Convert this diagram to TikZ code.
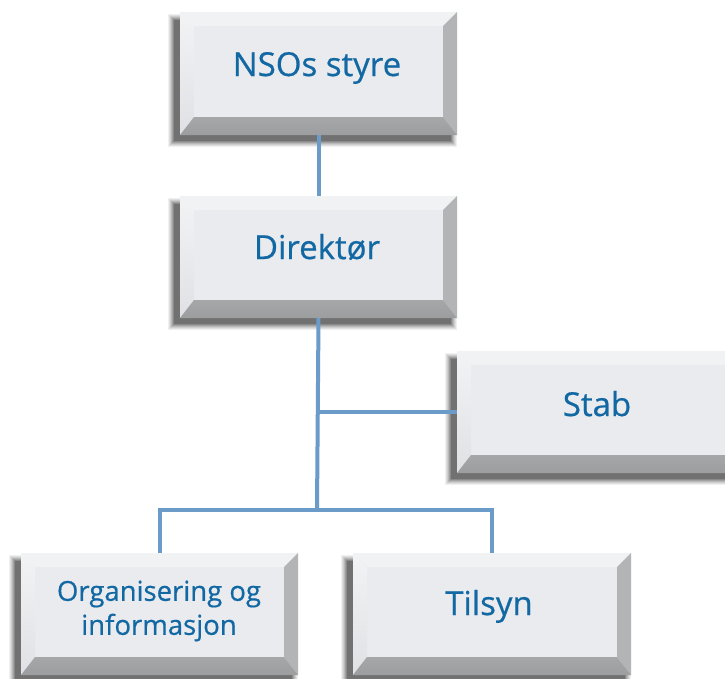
\documentclass[tikz,border=0pt]{standalone}
\usepackage{fontspec}
\setmainfont{Open Sans}
\newfontfamily\lblfont[FakeBold=0.6]{Open Sans}
\definecolor{txt}{HTML}{1268A3}
\definecolor{ln}{HTML}{6B9BC8}
\definecolor{face}{HTML}{E9EBEE}
\definecolor{bvtop}{HTML}{F1F2F4}
\definecolor{bvlefta}{HTML}{F2F3F5}
\definecolor{bvleftb}{HTML}{E0E1E4}
\definecolor{bvright}{HTML}{B3B4B6}
\definecolor{bvbota}{HTML}{A6A7A9}
\definecolor{bvbotb}{HTML}{9C9D9F}
\tikzset{
  boxface/.style={rectangle, fill=face, inner sep=0pt, outer sep=0pt},
  lbl/.style={text=txt, font=\lblfont\fontsize{33}{38}\selectfont, inner sep=0pt},
  lblsmall/.style={text=txt, font=\lblfont\fontsize{27.5}{34}\selectfont, inner sep=0pt, align=center},
  conn/.style={draw=ln, line width=4pt}
}
% name, x1, y1, x2, y2 (y downward)
\newcommand\bevbox[5]{%
  \foreach \s/\o in {6/0.06,5/0.07,4/0.08,3/0.1,2/0.12,1/0.14,0/0.18}{%
    \fill[black,opacity=\o] ({#2-6-\s},{#3+8-\s}) rectangle ({#4-6+\s},{#5+6+\s});
  }
  \node[boxface, minimum width={(#4-#2)*1pt}, minimum height={(#5-#3)*1pt}] (#1) at ({(#2+#4)/2},{(#3+#5)/2}) {};
  \fill[bvtop] (#2,#3) -- (#4,#3) -- ({#4-14},{#3+14}) -- ({#2+14},{#3+14}) -- cycle;
  \shade[top color=bvlefta, bottom color=bvleftb] (#2,#3) -- ({#2+14},{#3+14}) -- ({#2+14},{#5-18}) -- (#2,#5) -- cycle;
  \fill[bvright] (#4,#3) -- ({#4-14},{#3+14}) -- ({#4-14},{#5-18}) -- (#4,#5) -- cycle;
  \shade[top color=bvbota, bottom color=bvbotb] (#2,#5) -- (#4,#5) -- ({#4-14},{#5-18}) -- ({#2+14},{#5-18}) -- cycle;
}
\begin{document}
\begin{tikzpicture}[x=1pt,y=-1pt]
\useasboundingbox (0,0) rectangle (725,678);
\fill[white] (0,0) rectangle (725,678);
\bevbox{styre}{180}{12}{457}{135}
\bevbox{dir}{180}{196}{457}{318}
\bevbox{stab}{457}{351}{739}{473}
\bevbox{org}{21}{553}{298}{675}
\bevbox{tils}{353}{553}{631}{675}
\node[lbl, anchor=base] (tstyre) at (317,76) {NSOs styre};
\node[lbl, anchor=base] (tdir) at (317,259) {Direktør};
\node[lbl, anchor=base] (tstab) at (597,416) {Stab};
\node[lbl, anchor=base] (ttils) at (489,615) {Tilsyn};
\node[lblsmall] (torg) at (159,611) {Organisering og\\informasjon};
\coordinate (j) at (317,510);
\draw[conn] (styre.south) -- (dir.north);
\draw[conn] (dir.south) -- (j);
\draw[conn] (dir.south |- stab.west) -- (stab.west);
\draw[conn] (j) -| (org.north);
\draw[conn] (j) -| (tils.north);
\end{tikzpicture}
\end{document}
